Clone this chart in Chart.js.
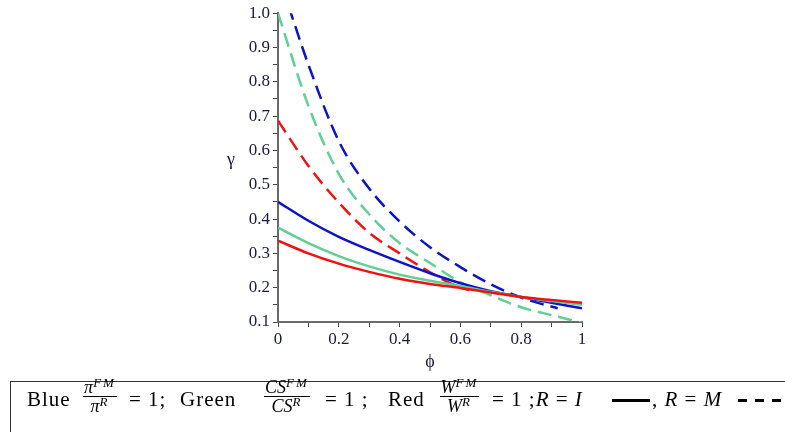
<!DOCTYPE html>
<html>
<head>
<meta charset="utf-8">
<script src="https://cdn.jsdelivr.net/npm/chart.js@4.4.0/dist/chart.umd.min.js"></script>
<style>
  body { margin: 0; background: #fff; }
  #wrap { position: relative; width: 785px; height: 432px; overflow: hidden; }
  #chart { position: absolute; left: 0; top: 0; }
  .box { position: absolute; left: 10px; top: 381px; width: 800px; height: 80px; border: 1.5px solid #333; }
  .t { position: absolute; top: 389px; font: 21px "Liberation Serif", serif; line-height: 21px; color: #000; white-space: nowrap; letter-spacing: 1px; }
  .t i { font-style: italic; }
  .frac { position: absolute; top: 378px; display: flex; flex-direction: column; align-items: center; font: italic 18px "Liberation Serif", serif; color: #000; }
  .frac .n { line-height: 18px; border-bottom: 1px solid #000; padding: 0 1px; white-space: nowrap; }
  .frac .d { line-height: 18px; white-space: nowrap; }
  .frac sup { font-size: 13px; vertical-align: 6px; line-height: 0; letter-spacing: 2px; }
  .seg { position: absolute; height: 2.5px; background: #000; top: 399px; }
</style>
</head>
<body>
<div id="wrap">
  <canvas id="chart" width="785" height="380"></canvas>
  <div class="box"></div>
  <span class="t" style="left:27px">Blue</span>
  <div class="frac" style="left:76px;width:48px"><div class="n">π<sup>FM</sup></div><div class="d">π<sup>R</sup></div></div>
  <span class="t" style="left:129px">= 1;</span>
  <span class="t" style="left:180px">Green</span>
  <div class="frac" style="left:255px;width:64px"><div class="n">CS<sup>FM</sup></div><div class="d">CS<sup>R</sup></div></div>
  <span class="t" style="left:325px">= 1 ;</span>
  <span class="t" style="left:388px">Red</span>
  <div class="frac" style="left:430px;width:59px"><div class="n">W<sup>FM</sup></div><div class="d">W<sup>R</sup></div></div>
  <span class="t" style="left:492px">= 1 ;<i>R</i> = <i>I</i></span>
  <div class="seg" style="left:612px;width:38px"></div>
  <span class="t" style="left:652px">, <i>R</i> = <i>M</i></span>
  <div class="seg" style="left:738px;width:9px"></div>
  <div class="seg" style="left:755px;width:9px"></div>
  <div class="seg" style="left:772px;width:9px"></div>
</div>
<script>
// phi values shared by the full-range curves
const phi = [0, 0.1, 0.2, 0.3, 0.4, 0.5, 0.6, 0.7, 0.8, 0.9, 1.0];

// R = I (solid)
const blueSolid = [0.45, 0.395, 0.348, 0.31, 0.275, 0.242, 0.213, 0.19, 0.173, 0.156, 0.14];
const greenSolid = [0.375, 0.33, 0.292, 0.262, 0.238, 0.22, 0.205, 0.188, 0.173, 0.161, 0.15];
const redSolid = [0.337, 0.3, 0.27, 0.246, 0.226, 0.211, 0.199, 0.186, 0.173, 0.164, 0.156];

// R = M (dashed)
const greenDashed = [1.0, 0.73, 0.532, 0.414, 0.33, 0.272, 0.216, 0.178, 0.143, 0.12, 0.098];
const redDashedPhi = [0, 0.1, 0.2, 0.3, 0.4, 0.5, 0.6, 0.63];
const redDashed = [0.687, 0.555, 0.448, 0.36, 0.3, 0.245, 0.2, 0.193];
const blueDashedPhi = [0.035, 0.1, 0.2, 0.3, 0.4, 0.5, 0.6, 0.7, 0.8, 0.92];
const blueDashed = [1.02, 0.85, 0.627, 0.489, 0.393, 0.318, 0.26, 0.21, 0.171, 0.14];

const BLUE = "#0a14c8";
const GREEN = "#5fcf94";
const RED = "#f51010";

function pts(xs, ys) {
  return xs.map((x, i) => ({ x: x, y: ys[i] }));
}

function line(data, color, dashed) {
  return {
    data: data,
    borderColor: color,
    borderWidth: 2.5,
    borderDash: dashed ? [14, 7] : [],
    pointRadius: 0,
    fill: false,
    cubicInterpolationMode: "monotone"
  };
}

// axis titles drawn by hand so they sit where the original has them
const axisTitles = {
  id: "axisTitles",
  afterDraw(chart) {
    const ctx = chart.ctx;
    ctx.save();
    ctx.fillStyle = "#1a1a40";
    ctx.font = "18px 'Liberation Serif', serif";
    ctx.textAlign = "center";
    ctx.textBaseline = "middle";
    ctx.fillText("γ", 231, 160);
    ctx.fillText("ϕ", 430, 362);
    ctx.restore();
  }
};

const tickFont = { family: "'Liberation Serif', serif", size: 17 };

new Chart(document.getElementById("chart"), {
  type: "line",
  data: {
    datasets: [
      line(pts(phi, redSolid), RED, false),
      line(pts(phi, greenSolid), GREEN, false),
      line(pts(phi, blueSolid), BLUE, false),
      line(pts(redDashedPhi, redDashed), RED, true),
      line(pts(phi, greenDashed), GREEN, true),
      line(pts(blueDashedPhi, blueDashed), BLUE, true)
    ]
  },
  options: {
    responsive: false,
    animation: false,
    layout: { padding: { left: 220, right: 203, top: 13, bottom: 18 } },
    plugins: { legend: { display: false }, tooltip: { enabled: false } },
    scales: {
      x: {
        type: "linear",
        min: 0,
        max: 1,
        border: { color: "#6a6a6a", width: 2 },
        grid: { drawOnChartArea: false, drawTicks: true, tickLength: 5, tickColor: "#444" },
        ticks: {
          stepSize: 0.1,
          autoSkip: false,
          maxRotation: 0,
          color: "#1a1a40",
          font: tickFont,
          padding: 2,
          callback: (v) => {
            const k = Math.round(v * 10);
            if (k % 2 !== 0) return "";
            return k === 0 ? "0" : k === 10 ? "1" : (k / 10).toFixed(1);
          }
        },
        afterFit: (s) => { s.height = 40; }
      },
      y: {
        type: "linear",
        min: 0.1,
        max: 1.0,
        border: { color: "#6a6a6a", width: 2 },
        grid: { drawOnChartArea: false, drawTicks: true, tickLength: 5, tickColor: "#444" },
        ticks: {
          stepSize: 0.05,
          autoSkip: false,
          color: "#1a1a40",
          font: tickFont,
          padding: 3,
          callback: (v) => {
            const k = Math.round(v * 100);
            return k % 10 === 0 ? (k / 100).toFixed(1) : "";
          }
        },
        afterFit: (s) => { s.width = 58; }
      }
    }
  },
  plugins: [axisTitles]
});
</script>
</body>
</html>
